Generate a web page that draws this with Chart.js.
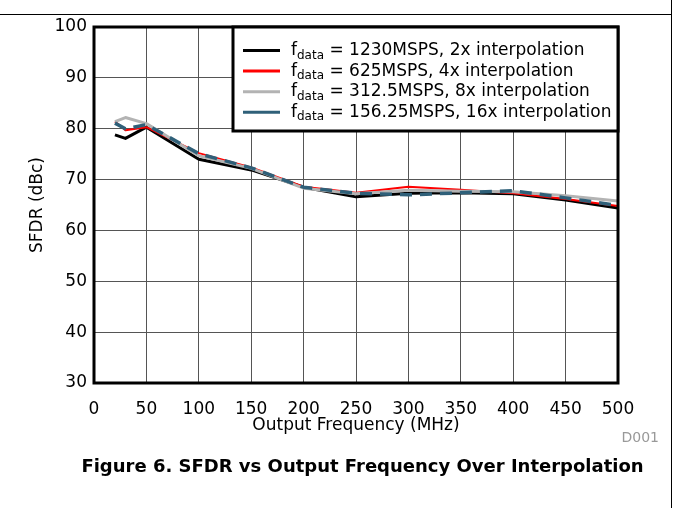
<!DOCTYPE html>
<html><head><meta charset="utf-8">
<script src="https://cdn.jsdelivr.net/npm/chart.js@4.4.1/dist/chart.umd.min.js"></script>
<style>
html,body{margin:0;padding:0;background:#fff;}
#wrap{position:relative;width:673px;height:508px;overflow:hidden;font-family:"DejaVu Sans",sans-serif;}
#c{position:absolute;left:0;top:0;}
#topline{position:absolute;left:0;top:14px;width:672px;height:1px;background:#000;}
#rightline{position:absolute;left:671px;top:0;width:1px;height:508px;background:#000;}
#caption{position:absolute;left:0;width:725px;top:455px;text-align:center;font-weight:bold;font-size:18px;line-height:22px;color:#000;}
#code{position:absolute;right:14px;top:429px;font-size:14px;line-height:16px;color:#999;}
</style></head>
<body><div id="wrap">
<canvas id="c" width="673" height="445"></canvas>
<div id="topline"></div><div id="rightline"></div>
<div id="code">D001</div>
<div id="caption">Figure 6. SFDR vs Output Frequency Over Interpolation</div>
</div>
<script>
const freqMHz = [20, 30, 50, 100, 150, 200, 250, 300, 350, 400, 450, 500];
const sfdr2x  = [78.8, 78.1, 80.3, 74.0, 71.9, 68.5, 66.6, 67.3, 67.4, 67.2, 66.0, 64.4];
const sfdr4x  = [81.4, 79.7, 80.3, 75.2, 72.4, 68.6, 67.4, 68.6, 68.0, 67.3, 66.2, 64.8];
const sfdr8x  = [81.4, 82.2, 81.0, 74.7, 72.2, 68.3, 67.2, 67.9, 67.7, 67.6, 66.8, 65.8];
const sfdr16x = [81.1, 80.0, 80.8, 75.1, 72.3, 68.5, 67.3, 67.0, 67.4, 67.8, 66.4, 64.9];
const legendRates = ["1230MSPS, 2x interpolation", "625MSPS, 4x interpolation", "312.5MSPS, 8x interpolation", "156.25MSPS, 16x interpolation"];
const xTicks = [0, 50, 100, 150, 200, 250, 300, 350, 400, 450, 500];
const yTicks = [30, 40, 50, 60, 70, 80, 90, 100];

const pts = arr => arr.map((v, i) => ({x: freqMHz[i], y: v}));
const FONT = "'DejaVu Sans', sans-serif";
Chart.defaults.font.family = FONT;
Chart.defaults.color = '#000';

const frame = {
  id: 'frame',
  afterDatasetsDraw(chart) {
    const {ctx, chartArea: a} = chart;
    ctx.save();
    ctx.strokeStyle = '#000'; ctx.lineWidth = 3;
    ctx.strokeRect(a.left, a.top, a.right - a.left, a.bottom - a.top);
    ctx.restore();
  }
};
const boxLegend = {
  id: 'boxLegend',
  afterDraw(chart) {
    const {ctx, chartArea: a} = chart;
    const w = 385, h = 104;
    const x0 = a.right - w, y0 = a.top;
    ctx.save();
    ctx.fillStyle = '#fff';
    ctx.fillRect(x0, y0, w, h);
    ctx.strokeStyle = '#000'; ctx.lineWidth = 3;
    ctx.strokeRect(x0, y0, w, h);
    chart.data.datasets.forEach((ds, i) => {
      const cy = y0 + 23.5 + i * 20.6;
      ctx.beginPath();
      ctx.strokeStyle = ds.borderColor; ctx.lineWidth = 3; ctx.setLineDash([]);
      ctx.moveTo(x0 + 10, cy); ctx.lineTo(x0 + 47, cy); ctx.stroke();
      ctx.fillStyle = '#000'; ctx.textBaseline = 'middle'; ctx.textAlign = 'left';
      let tx = x0 + 58;
      ctx.font = "17px " + FONT; ctx.fillText('f', tx, cy); tx += ctx.measureText('f').width;
      ctx.font = "12px " + FONT; ctx.fillText('data', tx, cy + 5); tx += ctx.measureText('data').width;
      ctx.font = "17px " + FONT; ctx.fillText(' = ' + legendRates[i], tx, cy);
    });
    ctx.restore();
  }
};

new Chart(document.getElementById('c'), {
  type: 'line',
  data: {
    datasets: [
      {label: legendRates[0], data: pts(sfdr2x), borderColor: '#000000', borderWidth: 3, order: 4},
      {label: legendRates[1], data: pts(sfdr4x), borderColor: '#ff0000', borderWidth: 2, order: 3},
      {label: legendRates[2], data: pts(sfdr8x), borderColor: '#b3b3b3', borderWidth: 3, order: 2},
      {label: legendRates[3], data: pts(sfdr16x), borderColor: '#2f6079', borderWidth: 3.5, borderDash: [12, 8], order: 1}
    ]
  },
  options: {
    responsive: false, animation: false, devicePixelRatio: 1,
    elements: {point: {radius: 0}, line: {tension: 0, borderJoinStyle: 'round'}},
    layout: {padding: {left: 0, top: 27, right: 55, bottom: 0}},
    plugins: {legend: {display: false}, tooltip: {enabled: false}},
    scales: {
      x: {
        type: 'linear', min: 0, max: 500,
        afterBuildTicks: s => { s.ticks = xTicks.map(v => ({value: v})); },
        afterFit: s => { s.height = 62; },
        ticks: {padding: 16, font: {size: 17}, color: '#000', maxRotation: 0},
        grid: {color: '#555', lineWidth: 1, drawTicks: false},
        border: {display: false},
        title: {display: true, text: 'Output Frequency (MHz)', font: {size: 17}, color: '#000', padding: {top: 0, bottom: 9}}
      },
      y: {
        type: 'linear', min: 30, max: 100,
        afterBuildTicks: s => { s.ticks = yTicks.map(v => ({value: v})); },
        afterFit: s => { s.width = 94; },
        ticks: {padding: 7, font: {size: 17}, color: '#000'},
        grid: {color: '#555', lineWidth: 1, drawTicks: false},
        border: {display: false},
        title: {display: true, text: 'SFDR (dBc)', font: {size: 17}, color: '#000', padding: {top: 27, bottom: 0}}
      }
    }
  },
  plugins: [frame, boxLegend]
});
</script>
</body></html>
